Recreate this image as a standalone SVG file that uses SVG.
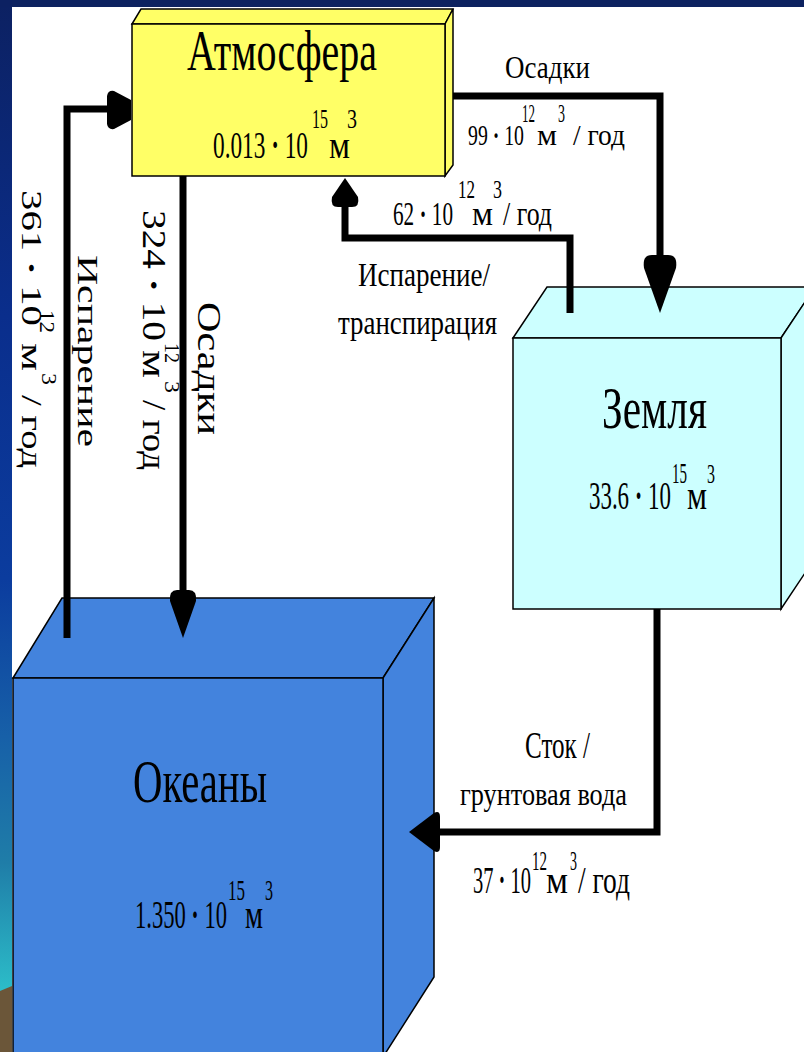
<svg xmlns="http://www.w3.org/2000/svg" width="804" height="1052" viewBox="0 0 804 1052">
<defs>
<linearGradient id="side" x1="0" y1="0" x2="0" y2="1">
<stop offset="0" stop-color="#0c2162"/>
<stop offset="0.3" stop-color="#0a2e8c"/>
<stop offset="0.55" stop-color="#0b3c9e"/>
<stop offset="0.7" stop-color="#1760a8"/>
<stop offset="0.82" stop-color="#1f7da8"/>
<stop offset="0.94" stop-color="#2cbcc8"/>
<stop offset="1" stop-color="#2cbcc8"/>
</linearGradient>
<style>
.box{stroke:#000;stroke-width:1.5;stroke-linejoin:miter}
.atm{fill:#ffff66}
.earth{fill:#ccffff}
.ocean{fill:#4383dd}
.ln{fill:none;stroke:#000;stroke-width:7;stroke-linejoin:miter;stroke-linecap:butt}
.ah{fill:#000;stroke:none}
text{font-family:"Liberation Serif","Times New Roman",serif;fill:#000}
.d{font-weight:bold}
</style>
</defs>
<rect x="0" y="0" width="804" height="1052" fill="#ffffff"/>
<rect x="0" y="0" width="804" height="7" fill="#0d2260"/>
<rect x="0" y="0" width="12" height="1052" fill="url(#side)"/>
<polygon points="0,991 12,986 12,1052 0,1052" fill="#6b5639"/>

<g id="ocean">
<polygon class="box ocean" points="13,678 62,598 434,598 383,678"/>
<polygon class="box ocean" points="383,678 434,598 434,977 383,1057"/>
<rect class="box ocean" x="13" y="678" width="370" height="390"/>
<text x="133" y="802" font-size="62" textLength="134" lengthAdjust="spacingAndGlyphs">Океаны</text>
<text x="135" y="928" font-size="41" textLength="92" lengthAdjust="spacingAndGlyphs">1.350 <tspan class="d">·</tspan> 10</text>
<text x="228" y="900" font-size="29" textLength="17" lengthAdjust="spacingAndGlyphs">15</text>
<text x="245" y="928" font-size="41" textLength="18" lengthAdjust="spacingAndGlyphs">м</text>
<text x="265" y="900" font-size="29" textLength="8" lengthAdjust="spacingAndGlyphs">3</text>
</g>

<g id="earth">
<polygon class="box earth" points="513,338 547,287 815,287 781,338"/>
<polygon class="box earth" points="781,338 815,287 815,558 781,609"/>
<rect class="box earth" x="513" y="338" width="268" height="271"/>
<text x="602" y="428" font-size="60" textLength="105" lengthAdjust="spacingAndGlyphs">Земля</text>
<text x="589" y="509" font-size="40" textLength="82" lengthAdjust="spacingAndGlyphs">33.6 <tspan class="d">·</tspan> 10</text>
<text x="672" y="483" font-size="30" textLength="15" lengthAdjust="spacingAndGlyphs">15</text>
<text x="687" y="509" font-size="40" textLength="20" lengthAdjust="spacingAndGlyphs">м</text>
<text x="707" y="483" font-size="27" textLength="8" lengthAdjust="spacingAndGlyphs">3</text>
</g>

<g id="atmosphere">
<polygon class="box atm" points="132,24 141,9 453,9 445,24"/>
<polygon class="box atm" points="445,24 453,9 453,165 445,176"/>
<rect class="box atm" x="132" y="24" width="313" height="152"/>
<text x="187" y="70" font-size="56" textLength="190" lengthAdjust="spacingAndGlyphs">Атмосфера</text>
<text x="213" y="158" font-size="38" textLength="95" lengthAdjust="spacingAndGlyphs">0.013 <tspan class="d">·</tspan> 10</text>
<text x="312" y="128" font-size="28" textLength="16" lengthAdjust="spacingAndGlyphs">15</text>
<text x="329" y="158" font-size="38" textLength="21" lengthAdjust="spacingAndGlyphs">м</text>
<text x="347" y="128" font-size="28" textLength="10" lengthAdjust="spacingAndGlyphs">3</text>
</g>
<rect x="0" y="0" width="804" height="7" fill="#0d2260"/>
<rect x="0" y="0" width="12" height="7" fill="#0c2162"/>

<g id="connectors">
<path class="ln" d="M67,638 V109 H110"/>
<path class="ah" d="M107,110 L107,96 Q108,90 114,91 L131,100 L131,120 L114,129 Q108,130 107,124 Z"/>
<path class="ln" d="M183,176 V596"/>
<path class="ah" d="M183,638 L170,601 Q169,590 177,590 L189,590 Q197,590 196,601 Z"/>
<path class="ln" d="M453,96 H660 V262"/>
<path class="ah" d="M660,313 L644,268 Q642,255 652,255 L668,255 Q678,255 676,268 Z"/>
<path class="ln" d="M570,313 V238 H345 V204"/>
<path class="ah" d="M345,178 L358,197 Q360,207 352,207 L338,207 Q330,207 332,197 Z"/>
<path class="ln" d="M657,609 V832 H438"/>
<path class="ah" d="M409,832 L434,813 Q440,810 440,817 L440,847 Q440,854 434,851 Z"/>
</g>

<g id="labels">
<text x="505" y="78" font-size="32" textLength="85" lengthAdjust="spacingAndGlyphs">Осадки</text>
<text x="468" y="145" font-size="30" textLength="56" lengthAdjust="spacingAndGlyphs">99 <tspan class="d">·</tspan> 10</text>
<text x="522" y="122" font-size="25" textLength="13" lengthAdjust="spacingAndGlyphs">12</text>
<text x="537" y="145" font-size="30" textLength="20" lengthAdjust="spacingAndGlyphs">м</text>
<text x="558" y="122" font-size="25" textLength="7" lengthAdjust="spacingAndGlyphs">3</text>
<text x="573" y="145" font-size="30" textLength="52" lengthAdjust="spacingAndGlyphs">/ год</text>

<text x="393" y="225" font-size="34" textLength="60" lengthAdjust="spacingAndGlyphs">62 <tspan class="d">·</tspan> 10</text>
<text x="458" y="198" font-size="26" textLength="17" lengthAdjust="spacingAndGlyphs">12</text>
<text x="472" y="225" font-size="34" textLength="21" lengthAdjust="spacingAndGlyphs">м</text>
<text x="493" y="198" font-size="26" textLength="9" lengthAdjust="spacingAndGlyphs">3</text>
<text x="503" y="225" font-size="34" textLength="49" lengthAdjust="spacingAndGlyphs">/ год</text>
<text x="358" y="286" font-size="33" textLength="132" lengthAdjust="spacingAndGlyphs">Испарение/</text>
<text x="338" y="334" font-size="33" textLength="159" lengthAdjust="spacingAndGlyphs">транспирация</text>

<text x="525" y="758" font-size="37" textLength="65" lengthAdjust="spacingAndGlyphs">Сток /</text>
<text x="460" y="805" font-size="32" textLength="167" lengthAdjust="spacingAndGlyphs">грунтовая вода</text>
<text x="473" y="893" font-size="38" textLength="58" lengthAdjust="spacingAndGlyphs">37 <tspan class="d">·</tspan> 10</text>
<text x="532" y="870" font-size="27" textLength="15" lengthAdjust="spacingAndGlyphs">12</text>
<text x="546" y="893" font-size="38" textLength="22" lengthAdjust="spacingAndGlyphs">м</text>
<text x="570" y="870" font-size="27" textLength="7" lengthAdjust="spacingAndGlyphs">3</text>
<text x="578" y="893" font-size="38" textLength="52" lengthAdjust="spacingAndGlyphs">/ год</text>

<text transform="rotate(90 22 190)" x="22" y="190" font-size="30" textLength="136" lengthAdjust="spacingAndGlyphs">361 <tspan class="d">·</tspan> 10</text>
<text transform="rotate(90 40 310)" x="40" y="310" font-size="22" textLength="23" lengthAdjust="spacingAndGlyphs">12</text>
<text transform="rotate(90 22 343)" x="22" y="343" font-size="30" textLength="28" lengthAdjust="spacingAndGlyphs">м</text>
<text transform="rotate(90 42 373)" x="42" y="373" font-size="22" textLength="12" lengthAdjust="spacingAndGlyphs">3</text>
<text transform="rotate(90 22 395)" x="22" y="395" font-size="30" textLength="73" lengthAdjust="spacingAndGlyphs">/ год</text>

<text transform="rotate(90 78 255)" x="78" y="255" font-size="29" textLength="192" lengthAdjust="spacingAndGlyphs">Испарение</text>

<text transform="rotate(90 143 210)" x="143" y="210" font-size="33" textLength="131" lengthAdjust="spacingAndGlyphs">324 <tspan class="d">·</tspan> 10</text>
<text transform="rotate(90 165 343)" x="165" y="343" font-size="22" textLength="20" lengthAdjust="spacingAndGlyphs">12</text>
<text transform="rotate(90 143 350)" x="143" y="350" font-size="33" textLength="28" lengthAdjust="spacingAndGlyphs">м</text>
<text transform="rotate(90 165 381)" x="165" y="381" font-size="22" textLength="12" lengthAdjust="spacingAndGlyphs">3</text>
<text transform="rotate(90 143 400)" x="143" y="400" font-size="33" textLength="70" lengthAdjust="spacingAndGlyphs">/ год</text>

<text transform="rotate(90 198 302)" x="198" y="302" font-size="33" textLength="133" lengthAdjust="spacingAndGlyphs">Осадки</text>
</g>
</svg>
